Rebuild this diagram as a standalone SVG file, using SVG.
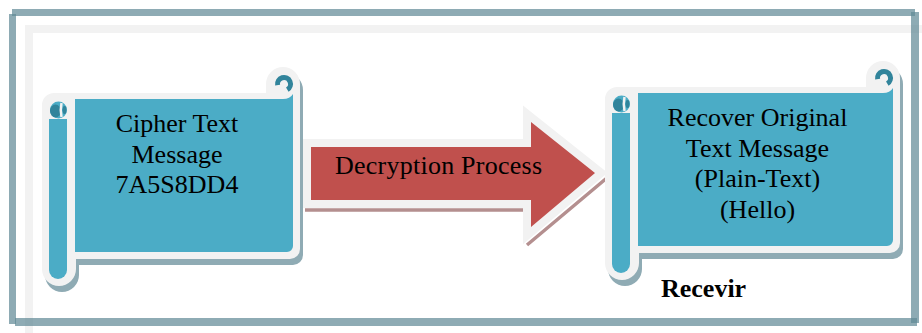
<svg xmlns="http://www.w3.org/2000/svg" width="922" height="333" viewBox="0 0 922 333">
<defs>
<style>
.gframe{fill:#f2f2f2}
.tframe{fill:rgb(96,137,149);fill-opacity:.71}
.outline{fill:#f2f2f2}
.shadow{fill:#8fabb4}
.blue{fill:#4bacc6}
.dark{fill:#31849b}
.curl{fill:none;stroke:#31849b;stroke-width:5}
.wcurl{fill:none;stroke:#f2f2f2;stroke-width:2.5}
.txt{font-family:"Liberation Serif","Times New Roman",serif;font-size:26px;fill:#000}
.bold{font-weight:bold}
.arrow{fill:#c0504d;stroke:#f2f2f2;stroke-width:16;stroke-linejoin:miter;stroke-miterlimit:10;paint-order:stroke fill}
.ashadow{fill:none;stroke:#b48f8f;stroke-width:3.5}
</style>
<path id="scrollL" d="M54 93 H266 V84 A17 17 0 0 1 300 84 V249 A10 10 0 0 1 290 259 H76 V269 A17 17 0 0 1 42 269 V105 A12 12 0 0 1 54 93 Z"/>
<path id="scrollR" d="M54 93 H303 V84 A17 17 0 0 1 337 84 V249 A10 10 0 0 1 327 259 H76 V269 A17 17 0 0 1 42 269 V105 A12 12 0 0 1 54 93 Z"/>
<g id="rollerTop">
<circle cx="58.5" cy="110" r="8.5" class="blue"/>
<ellipse cx="55.5" cy="111" rx="5.5" ry="6.5" class="dark"/>
<ellipse cx="64.5" cy="110" rx="2" ry="4" class="dark"/>
<path d="M61.5 103 Q60 110 61.5 117" class="wcurl"/>
</g>
</defs>

<g id="frame">
<rect class="gframe" x="25" y="25" width="897" height="8"/>
<rect class="gframe" x="25" y="25" width="8" height="308"/>
<rect class="tframe" x="12" y="9" width="903" height="7"/>
<rect class="tframe" x="9" y="14" width="7" height="310"/>
<rect class="tframe" x="15" y="318" width="902" height="8"/>
<rect class="tframe" x="911" y="12" width="8" height="311"/>
</g>

<g id="connectors">
<path class="ashadow" d="M305 210 H523 M527 245 L608 177"/>
<polygon class="arrow" points="311,147 531,147 531,122 595,173 531,227 531,200 311,200"/>
<text class="txt" x="335" y="174" textLength="207" lengthAdjust="spacing">Decryption Process</text>
</g>

<g id="node-cipher">
<use href="#scrollL" class="shadow" transform="translate(3,6)"/>
<use href="#scrollL" class="outline"/>
<path class="blue" d="M75 99 H283 Q290 99 293 94 V246 A6 6 0 0 1 287 252 H75 Z"/>
<path class="blue" d="M49 119 H67 V270 A9 9 0 0 1 49 270 Z"/>
<use href="#rollerTop"/>
<path class="curl" d="M277.6 85.1 A6.5 6.5 0 1 1 287.3 89.6"/>
<text class="txt" text-anchor="middle" x="177" y="132">Cipher Text</text>
<text class="txt" text-anchor="middle" x="177" y="162.5">Message</text>
<text class="txt" text-anchor="middle" x="177" y="193">7A5S8DD4</text>
</g>

<g id="node-recover">
<g transform="translate(563,-6)">
<use href="#scrollR" class="shadow" transform="translate(3,6)"/>
<use href="#scrollR" class="outline"/>
<path class="blue" d="M75 99 H320 Q327 99 330 94 V246 A6 6 0 0 1 324 252 H75 Z"/>
<path class="blue" d="M49 119 H67 V270 A9 9 0 0 1 49 270 Z"/>
<use href="#rollerTop"/>
<path class="curl" d="M314.6 85.1 A6.5 6.5 0 1 1 324.3 89.6"/>
</g>
<text class="txt" text-anchor="middle" x="757.5" y="126">Recover Original</text>
<text class="txt" text-anchor="middle" x="757.5" y="156.5">Text Message</text>
<text class="txt" text-anchor="middle" x="757.5" y="187">(Plain-Text)</text>
<text class="txt" text-anchor="middle" x="757.5" y="217.5">(Hello)</text>
<text class="txt bold" x="661" y="297">Recevir</text>
</g>
</svg>
